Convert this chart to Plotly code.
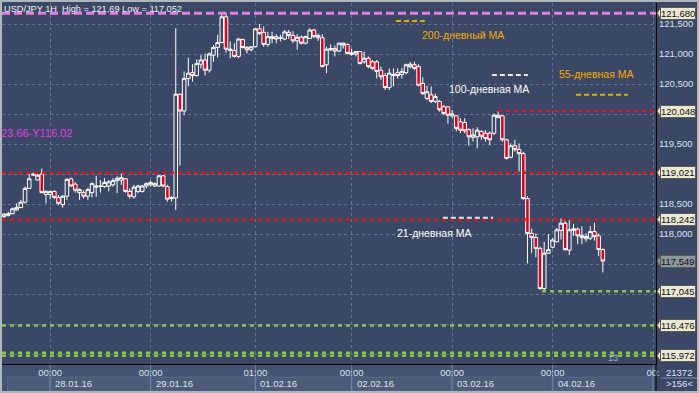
import plotly.graph_objects as go

# ---------------- data (hourly USD/JPY candles) ----------------
opens = [118.29, 118.31, 118.34, 118.40, 118.44, 118.53, 118.76, 118.98, 118.90, 119.00,
         118.66, 118.66, 118.71, 118.61, 118.49, 118.63, 118.92, 118.83, 118.69, 118.69,
         118.63, 118.69, 118.78, 118.79, 118.79, 118.80, 118.82, 118.89, 118.90, 118.92,
         118.71, 118.62, 118.71, 118.71, 118.80, 118.82, 118.80, 118.80, 118.97, 118.79,
         118.59, 118.60, 120.33, 120.05, 120.59, 120.69, 120.64, 120.83, 120.90, 120.73,
         120.98, 121.11, 121.19, 121.62, 121.06, 121.06, 120.96, 121.24, 121.11, 121.07,
         121.12, 121.42, 121.36, 121.16, 121.26, 121.29, 121.26, 121.25, 121.36, 121.31,
         121.22, 121.28, 121.18, 121.26, 121.40, 121.27, 121.27, 120.82, 121.07, 121.09,
         121.05, 121.15, 121.16, 120.99, 121.00, 121.04, 120.87, 120.93, 120.87, 120.87,
         120.73, 120.64, 120.44, 120.64, 120.69, 120.66, 120.69, 120.79, 120.82, 120.79,
         120.51, 120.26, 120.32, 120.21, 120.21, 120.12, 120.12, 119.97, 119.97, 119.87,
         119.86, 119.74, 119.61, 119.62, 119.71, 119.68, 119.68, 119.68, 119.94, 119.97,
         119.57, 119.28, 119.47, 119.41, 119.34, 118.59, 118.01, 117.94, 117.76, 117.09,
         117.68, 117.78, 117.87, 118.06, 118.18, 117.73, 118.06, 118.08, 117.98, 117.92,
         117.93, 118.04, 117.97, 117.74]
highs = [118.35, 118.37, 118.44, 118.51, 118.57, 118.79, 119.01, 119.02, 119.01, 119.09,
         118.73, 118.72, 118.73, 118.65, 118.65, 118.93, 118.94, 118.86, 118.76, 118.73,
         118.77, 118.86, 118.97, 118.90, 118.93, 118.90, 118.93, 118.96, 119.01, 118.93,
         118.76, 118.82, 118.82, 118.82, 118.86, 118.89, 118.86, 118.98, 118.98, 118.82,
         118.63, 121.43, 120.34, 120.71, 120.94, 120.83, 120.91, 120.98, 121.01, 121.03,
         121.15, 121.32, 121.68, 121.69, 121.21, 121.18, 121.26, 121.26, 121.13, 121.13,
         121.43, 121.50, 121.46, 121.37, 121.37, 121.33, 121.32, 121.40, 121.40, 121.38,
         121.33, 121.31, 121.31, 121.43, 121.42, 121.34, 121.33, 121.12, 121.16, 121.14,
         121.19, 121.19, 121.18, 121.09, 121.05, 121.05, 121.04, 120.96, 120.90, 120.90,
         120.79, 120.68, 120.76, 120.76, 120.76, 120.77, 120.84, 120.87, 120.87, 120.83,
         120.61, 120.47, 120.46, 120.34, 120.23, 120.15, 120.13, 120.07, 119.98, 119.93,
         119.93, 119.76, 119.76, 119.78, 119.73, 119.73, 119.71, 120.01, 120.05, 119.98,
         119.59, 119.51, 119.57, 119.51, 119.37, 118.63, 118.09, 118.01, 117.79, 117.87,
         118.00, 117.93, 118.10, 118.26, 118.23, 118.23, 118.17, 118.11, 118.13, 118.01,
         118.13, 118.19, 118.01, 117.76]
lows = [118.27, 118.29, 118.33, 118.39, 118.43, 118.51, 118.75, 118.97, 118.89, 118.68,
        118.51, 118.58, 118.58, 118.48, 118.44, 118.57, 118.79, 118.69, 118.57, 118.59,
        118.57, 118.61, 118.62, 118.69, 118.77, 118.71, 118.79, 118.68, 118.82, 118.69,
        118.59, 118.59, 118.68, 118.69, 118.76, 118.79, 118.78, 118.79, 118.78, 118.54,
        118.54, 118.40, 119.14, 119.98, 120.46, 120.54, 120.62, 120.76, 120.64, 120.69,
        120.87, 120.94, 121.18, 121.02, 120.93, 120.94, 120.93, 121.09, 121.01, 121.04,
        121.11, 121.32, 121.12, 121.12, 121.18, 121.18, 121.21, 121.23, 121.25, 121.18,
        121.07, 121.16, 121.16, 121.25, 121.26, 121.22, 120.78, 120.68, 121.05, 120.96,
        121.03, 121.09, 120.99, 120.97, 120.96, 120.83, 120.84, 120.76, 120.73, 120.59,
        120.57, 120.40, 120.40, 120.46, 120.59, 120.59, 120.66, 120.76, 120.73, 120.46,
        120.32, 120.23, 120.18, 120.18, 120.04, 119.98, 119.84, 119.93, 119.71, 119.68,
        119.68, 119.47, 119.54, 119.43, 119.57, 119.54, 119.48, 119.65, 119.93, 119.54,
        119.24, 119.26, 119.37, 119.04, 118.57, 117.51, 117.68, 117.61, 117.07, 117.052,
        117.67, 117.76, 117.86, 117.91, 117.72, 117.65, 117.97, 117.83, 117.83, 117.87,
        117.90, 117.89, 117.63, 117.36]
closes = [118.33, 118.34, 118.42, 118.44, 118.53, 118.76, 118.92, 119.00, 118.98, 118.69,
          118.71, 118.71, 118.61, 118.51, 118.63, 118.91, 118.80, 118.73, 118.74, 118.63,
          118.74, 118.84, 118.80, 118.80, 118.86, 118.87, 118.89, 118.93, 118.94, 118.71,
          118.63, 118.78, 118.80, 118.80, 118.84, 118.86, 118.84, 118.97, 118.80, 118.58,
          118.61, 120.33, 120.05, 120.59, 120.68, 120.64, 120.84, 120.90, 120.73, 121.00,
          121.11, 121.19, 121.62, 121.08, 121.08, 120.96, 121.25, 121.11, 121.07, 121.12,
          121.42, 121.34, 121.16, 121.29, 121.29, 121.25, 121.27, 121.37, 121.31, 121.22,
          121.28, 121.18, 121.29, 121.40, 121.29, 121.31, 120.79, 121.08, 121.09, 121.05,
          121.18, 121.18, 121.01, 121.02, 121.04, 120.84, 120.93, 120.79, 120.76, 120.71,
          120.62, 120.44, 120.68, 120.66, 120.64, 120.71, 120.82, 120.83, 120.76, 120.48,
          120.34, 120.37, 120.21, 120.29, 120.07, 120.01, 119.98, 120.00, 119.76, 119.73,
          119.72, 119.62, 119.65, 119.73, 119.63, 119.59, 119.57, 119.98, 119.98, 119.57,
          119.26, 119.47, 119.41, 119.34, 118.59, 118.01, 117.94, 117.76, 117.09, 117.68,
          117.74, 117.90, 118.07, 118.18, 117.74, 118.07, 118.09, 117.97, 117.94, 117.96,
          118.04, 117.96, 117.74, 117.549]
bar_index = list(range(len(opens)))

# time axis labels (bar index of each label)
tick_index = [11, 35, 60, 83, 107, 131, 155]
tick_time = ["00:00", "00:00", "01:00", "00:00", "00:00", "00:00", "00:"]
date_index = [11, 35, 60, 83, 107, 131]
date_text = ["28.01.16", "29.01.16", "01.02.16", "02.02.16", "03.02.16", "04.02.16"]

# price axis
price_ticks = [116.0, 116.5, 117.0, 117.5, 118.0, 118.5, 119.0, 119.5, 120.0, 120.5, 121.0, 121.5]
price_text = ["", "", "", "", "118,000", "118,500", "", "119,500", "", "120,500", "121,000", "121,500"]

# horizontal levels
level_vals = [121.68, 120.048, 119.021, 118.242, 117.045, 116.476, 116.02, 115.972]
level_start = [-0.5, 118, -0.5, -0.5, 128.5, -0.5, -0.5, -0.5]
level_kind = ["pink", "red", "red", "red", "green", "green", "green", "green"]

# price tags on the right axis
tag_vals = [121.68, 120.048, 119.021, 118.242, 117.549, 117.045, 116.476, 115.972]
tag_current = 117.549

# moving-average legend items
ma_names = ["200-дневный МА", "100-дневная МА", "55-дневная МА", "21-дневная МА"]
ma_text_pos = [(99.3, 121.32), (105.8, 120.42), (132.0, 120.67), (93.4, 118.02)]
ma_line_pos = [(93.6, 100.5, 121.55), (116.5, 125.1, 120.65), (136.6, 149.0, 120.32), (104.8, 116.8, 118.27)]
ma_text_color = ["#f5a800", "#ffffff", "#f5a800", "#ffffff"]
ma_line_color = ["#e0b000", "#e8e8ee", "#e0b000", "#f0e4ea"]

title_text = "USD/JPY 1H  High = 121,69 Low = 117,052"
fib_text = "23.66-Y116.02"

# ---------------- styling ----------------
BG = "#3a4866"
STRIP = "#44536f"
GRID = "#62729a"
LABEL = "#dbe4ef"
FONT = "Liberation Sans, Arial, sans-serif"
kind_color = {"pink": "#e47ee2", "red": "#e3101e", "green": "#8cc63f"}
kind_width = {"pink": 3, "red": 2.5, "green": 2.5}
kind_dash = {"pink": "8px,4px", "red": "4px,4px", "green": "4px,4px"}

PW, PH = 654.0, 361.0  # plot area size in px
def px_x(p):  # px offset from plot left -> paper
    return p / PW
def px_y(p):  # px offset below plot bottom -> paper
    return -p / PH

fig = go.Figure()
fig.add_trace(go.Candlestick(
    x=bar_index, open=opens, high=highs, low=lows, close=closes,
    increasing=dict(line=dict(color="#ffffff", width=1), fillcolor=BG),
    decreasing=dict(line=dict(color="#ffffff", width=1), fillcolor="#e0001c"),
    whiskerwidth=0, hoverinfo="skip", showlegend=False,
))

shapes = []
annotations = []

# bottom strip background
shapes.append(dict(type="rect", xref="paper", yref="paper", x0=px_x(-2), x1=1.0,
                   y0=px_y(29), y1=0, fillcolor=STRIP, line=dict(width=0), layer="below"))
# date cells
cell_edges = [-0.5 + 1.2] + date_index + [tick_index[-1]]
for i in range(len(cell_edges) - 1):
    shapes.append(dict(type="rect", xref="x", yref="paper", x0=cell_edges[i] + 0.15, x1=cell_edges[i + 1] - 0.15,
                       y0=px_y(27), y1=px_y(13), fillcolor="#4c5b78",
                       line=dict(color="#56668a", width=1), layer="below"))
# separators in the bottom strip
for t in tick_index:
    shapes.append(dict(type="line", xref="x", yref="paper", x0=t, x1=t, y0=0, y1=px_y(27),
                       line=dict(color="#7283a2", width=1), layer="below"))

# level lines
for v, s, k in zip(level_vals, level_start, level_kind):
    shapes.append(dict(type="line", xref="x", yref="y", x0=s, x1=155.7, y0=v, y1=v,
                       line=dict(color=kind_color[k], width=kind_width[k], dash=kind_dash[k])))

# MA legend lines and texts
for name, (tx, ty), (lx0, lx1, ly), tc, lc in zip(ma_names, ma_text_pos, ma_line_pos, ma_text_color, ma_line_color):
    shapes.append(dict(type="line", xref="x", yref="y", x0=lx0, x1=lx1, y0=ly, y1=ly,
                       line=dict(color=lc, width=2, dash="5px,3px")))
    annotations.append(dict(x=tx, y=ty, xref="x", yref="y", text=name, showarrow=False,
                            xanchor="left", yanchor="middle", font=dict(family=FONT, size=10.5, color=tc)))

# right axis extension and bottom-right box
shapes.append(dict(type="line", xref="paper", yref="paper", x0=1, x1=1, y0=px_y(28), y1=0,
                   line=dict(color="#000000", width=1)))
shapes.append(dict(type="line", xref="paper", yref="paper", x0=1 + px_x(5), x1=1 + px_x(41),
                   y0=px_y(14), y1=px_y(14), line=dict(color="#8090aa", width=1)))

# price tags
for v in tag_vals:
    cur = (v == tag_current)
    fill = "#8e959e" if cur else "#ece8d3"
    shapes.append(dict(type="path", xref="paper", yref="y",
                       path=f"M {1 + px_x(1)},{v} L {1 + px_x(5)},{v + 0.105} L {1 + px_x(5)},{v - 0.105} Z",
                       fillcolor=fill, line=dict(color="#5b5b55", width=1)))
    annotations.append(dict(x=1 + px_x(4), y=v, xref="paper", yref="y",
                            text=f"{v:.3f}".replace(".", ","), showarrow=False,
                            xanchor="left", yanchor="middle", bgcolor=fill,
                            bordercolor="#5b5b55", borderwidth=1, borderpad=0,
                            font=dict(family=FONT, size=9.5, color="#111111")))

# outer frame
shapes.append(dict(type="rect", xref="paper", yref="paper", x0=px_x(-2), x1=1 + px_x(43),
                   y0=px_y(29), y1=1 + 3 / PH, line=dict(color="#aeb6bf", width=4), layer="above"))

# dates
for d, t in zip(date_index, date_text):
    annotations.append(dict(x=d, y=px_y(20), xref="x", yref="paper", text=t, showarrow=False,
                            xanchor="left", yanchor="middle", xshift=3,
                            font=dict(family=FONT, size=9.5, color=LABEL)))

# bottom-right counters
annotations.append(dict(x=1 + px_x(23), y=px_y(8), xref="paper", yref="paper", text="21372",
                        showarrow=False, xanchor="center", yanchor="middle",
                        font=dict(family=FONT, size=9.5, color=LABEL)))
annotations.append(dict(x=1 + px_x(23), y=px_y(20), xref="paper", yref="paper", text=">156<",
                        showarrow=False, xanchor="center", yanchor="middle",
                        font=dict(family=FONT, size=9.5, color=LABEL)))

# title, fib label, small counter
annotations.append(dict(x=0, y=1, xref="paper", yref="paper", text=title_text, showarrow=False,
                        xanchor="left", yanchor="top", xshift=0, yshift=1,
                        font=dict(family=FONT, size=9.2, color="#eef2f6")))
annotations.append(dict(x=0, y=119.683, xref="paper", yref="y", text=fib_text, showarrow=False,
                        xanchor="left", yanchor="middle", xshift=-3,
                        font=dict(family=FONT, size=11, color="#e03ee0")))
annotations.append(dict(x=145.4, y=115.93, xref="x", yref="y", text="13", showarrow=False,
                        xanchor="center", yanchor="middle",
                        font=dict(family=FONT, size=9, color="#9fb6d2")))

fig.update_layout(
    width=699, height=393,
    margin=dict(l=2, r=43, t=3, b=29, pad=0, autoexpand=False),
    paper_bgcolor=BG, plot_bgcolor=BG,
    boxgap=0.15, boxgroupgap=0.0,
    showlegend=False,
    shapes=shapes, annotations=annotations,
    font=dict(family=FONT, size=9, color=LABEL),
    xaxis=dict(range=[-0.5, 155.7], rangeslider=dict(visible=False), automargin=False,
               tickvals=tick_index, ticktext=tick_time, ticks="",
               showgrid=True, gridcolor=GRID, griddash="dot", gridwidth=1,
               zeroline=False, showline=True, linecolor="#000000", linewidth=1,
               tickfont=dict(family=FONT, size=9.5, color=LABEL), fixedrange=True),
    yaxis=dict(range=[115.8333, 121.85], side="right", automargin=False,
               tickvals=price_ticks, ticktext=price_text,
               ticks="", showgrid=True, gridcolor=GRID, griddash="dot", gridwidth=1,
               zeroline=False, showline=True, linecolor="#000000", linewidth=1,
               tickfont=dict(family=FONT, size=9.5, color=LABEL), fixedrange=True),
)

fig.write_html("out.html", config={"displayModeBar": False},
               post_script="document.body.style.margin='0';document.body.style.overflow='hidden';")
